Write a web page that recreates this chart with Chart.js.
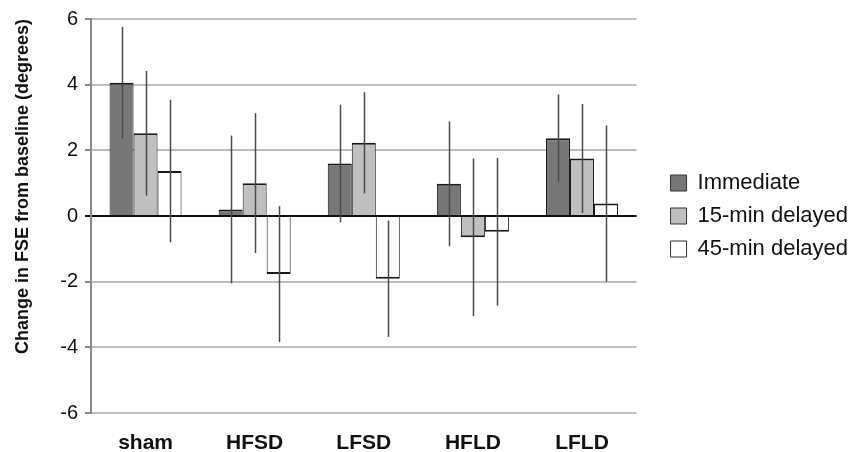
<!DOCTYPE html>
<html>
<head>
<meta charset="utf-8">
<script src="https://cdn.jsdelivr.net/npm/chart.js@4"></script>
<style>
  html, body { margin: 0; padding: 0; background: #ffffff; }
  #wrap { width: 862px; height: 452px; }
</style>
</head>
<body>
<div id="wrap"><canvas id="chart" width="862" height="452"></canvas></div>
<script>
// Groups and mean change in FSE (degrees) with ± error half-lengths
const groups = ['sham', 'HFSD', 'LFSD', 'HFLD', 'LFLD'];
const seriesNames = ['Immediate', '15-min delayed', '45-min delayed'];

const immediate = [4.06, 0.20, 1.60, 0.98, 2.37];
const immediateErr = [1.70, 2.25, 1.79, 1.90, 1.33];

const delayed15 = [2.52, 1.00, 2.23, -0.65, 1.75];
const delayed15Err = [1.90, 2.13, 1.54, 2.40, 1.66];

const delayed45 = [1.37, -1.77, -1.91, -0.48, 0.38];
const delayed45Err = [2.17, 2.07, 1.77, 2.25, 2.38];

const yTicks = [-6, -4, -2, 0, 2, 4, 6];

const fills = ['#777777', '#c0c0c0', '#ffffff'];
const FONT = '"Liberation Sans", Arial, Helvetica, sans-serif';

// Vertical error lines (no caps) through the centre of each bar
const errorBars = {
  id: 'errorBars',
  afterDatasetsDraw(chart) {
    const ctx = chart.ctx;
    const yScale = chart.scales.y;
    ctx.save();
    ctx.strokeStyle = '#4a4a4a';
    ctx.lineWidth = 1.5;
    chart.data.datasets.forEach((ds, i) => {
      const meta = chart.getDatasetMeta(i);
      meta.data.forEach((bar, j) => {
        const v = ds.data[j];
        const e = ds.errors[j];
        ctx.beginPath();
        ctx.moveTo(Math.round(bar.x) + 0.5, yScale.getPixelForValue(v + e));
        ctx.lineTo(Math.round(bar.x) + 0.5, yScale.getPixelForValue(v - e));
        ctx.stroke();
      });
    });
    ctx.restore();
  }
};

const barBorder = { top: 2, bottom: 2, left: 1, right: 1 };

function makeSet(label, data, errors, fill) {
  return {
    label: label,
    data: data,
    errors: errors,
    backgroundColor: fill,
    borderColor: '#1a1a1a',
    borderWidth: barBorder,
    borderSkipped: 'start',
    categoryPercentage: 0.66,
    barPercentage: 1.0
  };
}

new Chart(document.getElementById('chart'), {
  type: 'bar',
  data: {
    labels: groups,
    datasets: [
      makeSet(seriesNames[0], immediate, immediateErr, fills[0]),
      makeSet(seriesNames[1], delayed15, delayed15Err, fills[1]),
      makeSet(seriesNames[2], delayed45, delayed45Err, fills[2])
    ]
  },
  options: {
    responsive: false,
    animation: false,
    devicePixelRatio: 1,
    layout: { padding: { top: 19, right: 4, bottom: 0, left: 0 } },
    plugins: {
      tooltip: { enabled: false },
      legend: {
        display: true,
        position: 'right',
        fullSize: false,
        maxWidth: 320,
        labels: {
          font: { family: FONT, size: 22 },
          color: '#111111',
          boxWidth: 16,
          boxHeight: 16,
          padding: 11,
          generateLabels(chart) {
            return chart.data.datasets.map((ds, i) => ({
              text: ds.label,
              fillStyle: fills[i],
              strokeStyle: '#333333',
              lineWidth: 1,
              fontColor: '#111111',
              datasetIndex: i,
              hidden: false
            }));
          }
        }
      }
    },
    scales: {
      x: {
        grid: { display: false },
        border: { display: false },
        ticks: {
          font: { family: FONT, size: 21, weight: 'bold' },
          color: '#111111',
          padding: 10
        },
        afterFit(scale) { scale.height = 39; }
      },
      y: {
        min: -6,
        max: 6,
        afterBuildTicks(scale) { scale.ticks = yTicks.map(v => ({ value: v })); },
        ticks: {
          font: { family: FONT, size: 20 },
          color: '#111111',
          padding: 7
        },
        grid: {
          color: c => (c.tick && c.tick.value === 0) ? '#111111' : '#bdbdbd',
          tickColor: c => (c.tick && c.tick.value === 0) ? '#111111' : '#8a8a8a',
          lineWidth: 2,
          tickLength: 6
        },
        border: { display: true, color: '#8a8a8a', width: 2 },
        title: {
          display: true,
          text: 'Change in FSE from baseline (degrees)',
          align: 'end',
          font: { family: FONT, size: 18, weight: 'bold' },
          color: '#111111',
          padding: { top: 12, bottom: 0 }
        },
        afterFit(scale) { scale.width = 91; }
      },
      gap: {
        axis: 'y',
        position: 'right',
        display: true,
        grid: { display: false, drawTicks: false },
        border: { display: false },
        ticks: { display: false },
        afterFit(scale) { scale.width = 23; }
      }
    }
  },
  plugins: [errorBars]
});
</script>
</body>
</html>
